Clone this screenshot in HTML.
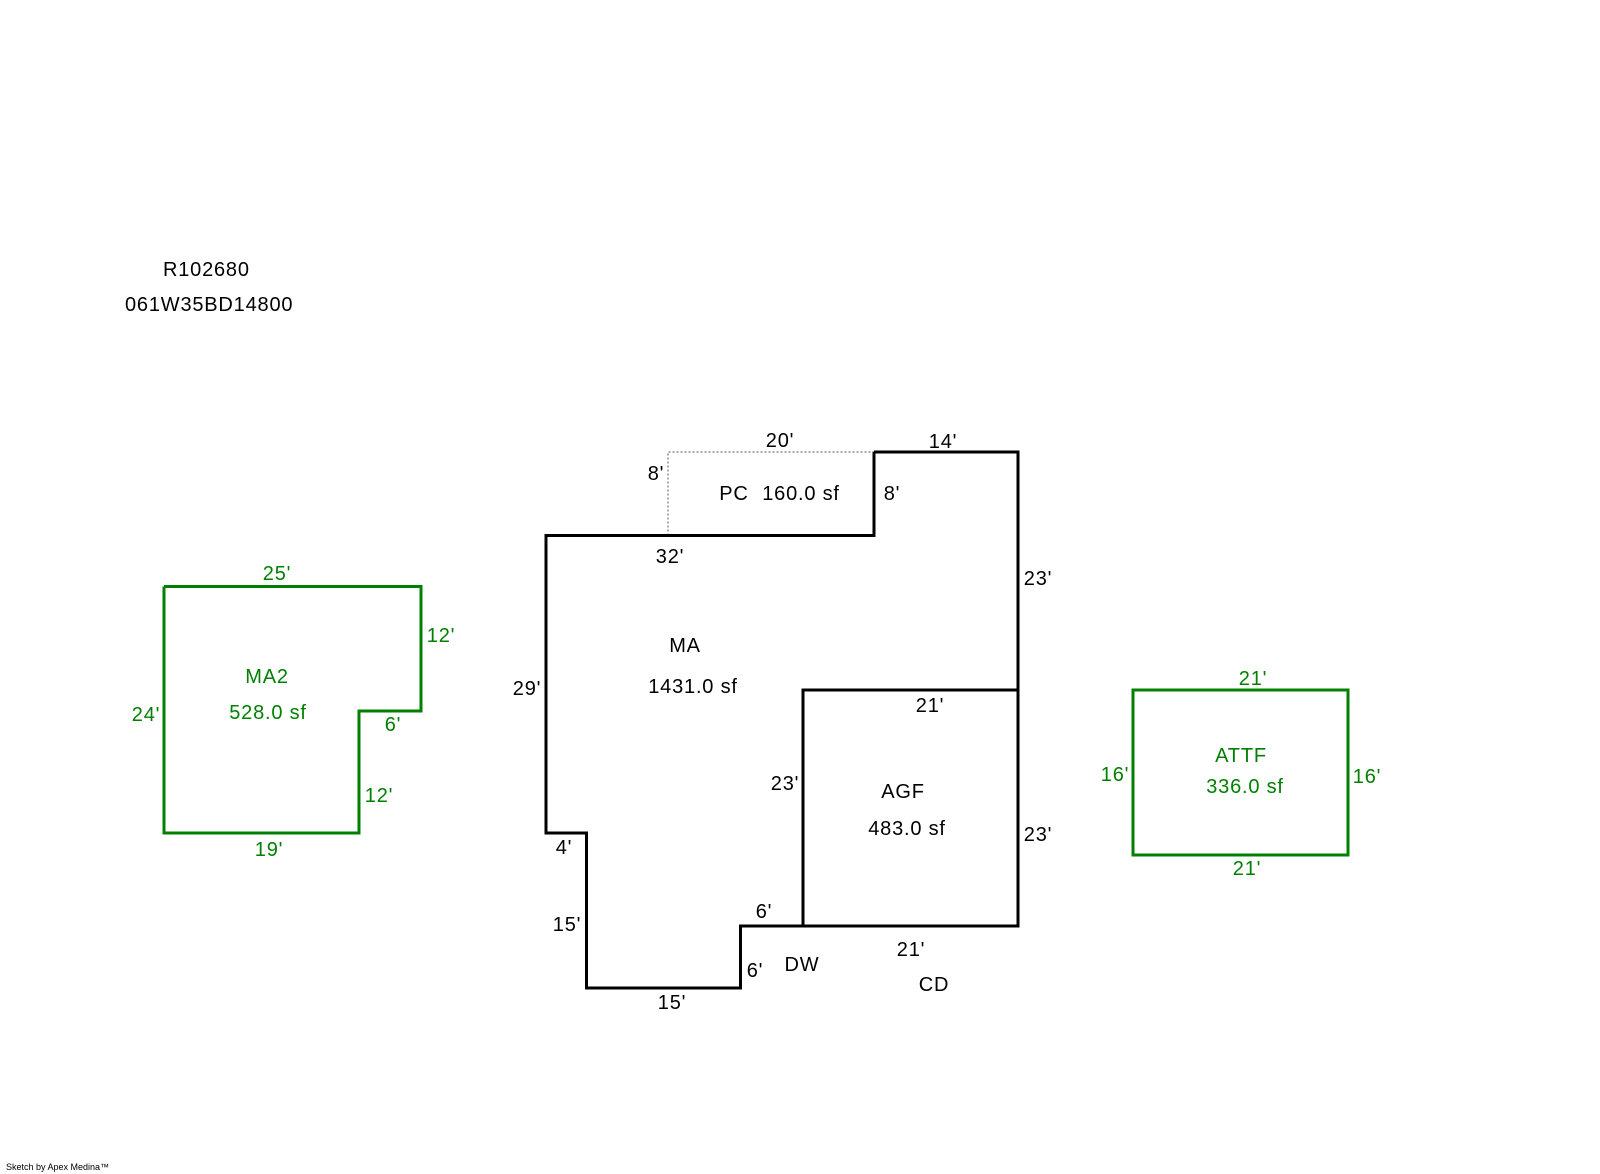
<!DOCTYPE html>
<html><head><meta charset="utf-8"><style>
html,body{margin:0;padding:0;background:#fff;}
svg{display:block;}
text{font-family:"Liberation Sans",Arial,sans-serif;font-size:20px;letter-spacing:0.8px;fill:#000;dominant-baseline:central;text-anchor:middle;}
.g{fill:#008000;}
</style></head><body>
<svg width="1600" height="1174" viewBox="0 0 1600 1174" xmlns="http://www.w3.org/2000/svg">
<rect width="1600" height="1174" fill="#fff"/>
<text x="163" y="270" style="text-anchor:start">R102680</text>
<text x="125" y="305" style="text-anchor:start">061W35BD14800</text>

<polyline points="668,535.5 668,452 874,452" fill="none" stroke="#777" stroke-width="1.2" stroke-dasharray="2,2"/>
<polyline points="874,452 1018,452 1018,926 803,926 740.5,926 740.5,988 586.5,988 586.5,833 546,833 546,535.5 874,535.5 874,452" fill="none" stroke="#000" stroke-width="3" stroke-linejoin="miter"/>
<polyline points="1018,690 803,690 803,926" fill="none" stroke="#000" stroke-width="3"/>

<text x="780" y="441">20'</text>
<text x="943" y="442">14'</text>
<text x="656" y="474">8'</text>
<text x="734" y="494">PC</text>
<text x="801" y="494">160.0 sf</text>
<text x="892" y="494">8'</text>
<text x="670" y="557">32'</text>
<text x="1038" y="579">23'</text>
<text x="685" y="646">MA</text>
<text x="693" y="687">1431.0 sf</text>
<text x="527" y="689">29'</text>
<text x="930" y="706">21'</text>
<text x="785" y="784">23'</text>
<text x="903" y="792">AGF</text>
<text x="907" y="829">483.0 sf</text>
<text x="1038" y="835">23'</text>
<text x="564" y="848">4'</text>
<text x="567" y="925">15'</text>
<text x="764" y="912">6'</text>
<text x="755" y="971">6'</text>
<text x="802" y="965">DW</text>
<text x="911" y="950">21'</text>
<text x="934" y="985">CD</text>
<text x="672" y="1003">15'</text>

<polyline points="164,586.5 421,586.5 421,711 359,711 359,833 164,833 164,586.5" fill="none" stroke="#008000" stroke-width="3"/>
<text class="g" x="277" y="574">25'</text>
<text class="g" x="441" y="636">12'</text>
<text class="g" x="267" y="677">MA2</text>
<text class="g" x="268" y="713">528.0 sf</text>
<text class="g" x="146" y="715">24'</text>
<text class="g" x="393" y="725">6'</text>
<text class="g" x="379" y="796">12'</text>
<text class="g" x="269" y="850">19'</text>

<rect x="1133" y="690" width="215" height="165" fill="none" stroke="#008000" stroke-width="3"/>
<text class="g" x="1253" y="679">21'</text>
<text class="g" x="1241" y="756">ATTF</text>
<text class="g" x="1245" y="787">336.0 sf</text>
<text class="g" x="1115" y="775">16'</text>
<text class="g" x="1367" y="777">16'</text>
<text class="g" x="1247" y="869">21'</text>

<text x="6" y="1167" style="text-anchor:start;font-size:9px;letter-spacing:0">Sketch by Apex Medina™</text>
</svg>
</body></html>
